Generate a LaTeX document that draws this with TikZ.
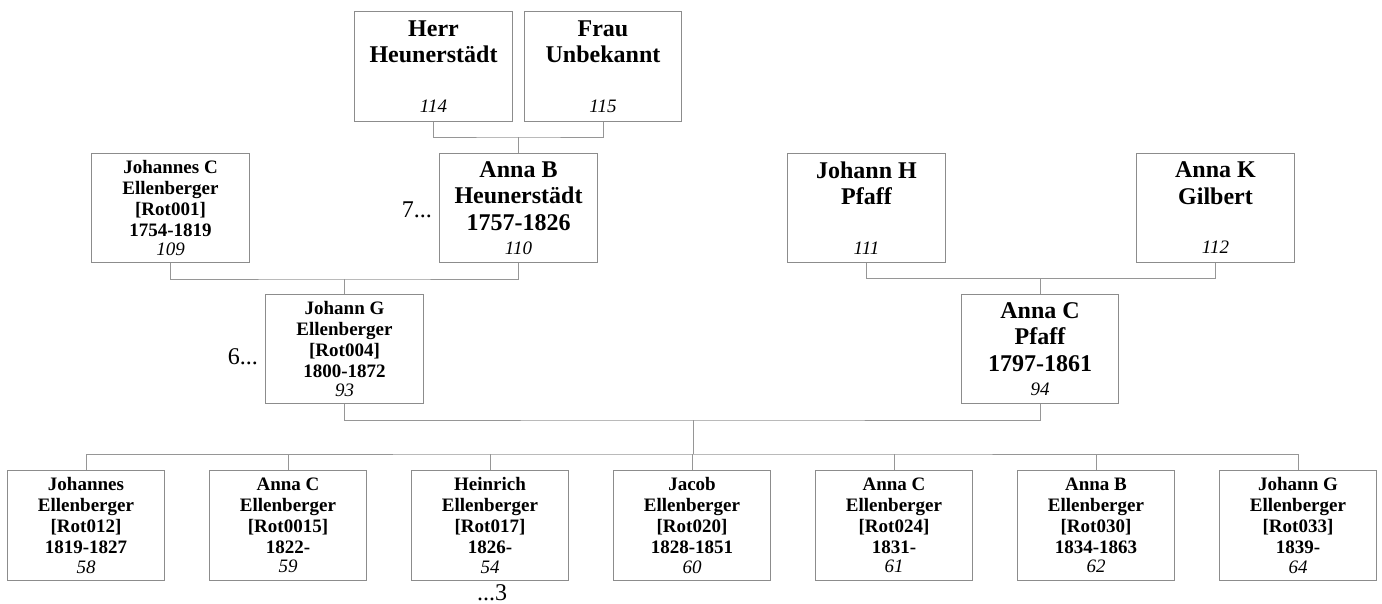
\documentclass[tikz,border=0pt]{standalone}
\usepackage{fontspec}
\setmainfont{Liberation Serif}
\definecolor{boxgray}{RGB}{140,140,140}
\definecolor{linegray}{RGB}{150,150,150}
\newcommand\numit[1]{{\fontsize{19}{21}\selectfont\mdseries\itshape #1}}
\tikzset{
  person/.style={draw=boxgray, line width=1.2pt, fill=white, minimum width=157.5pt,
    minimum height=109.5pt, inner sep=0pt, align=center},
  bigbox/.style={person, font=\fontsize{24}{26.5}\selectfont\bfseries},
  smallbox/.style={person, font=\fontsize{19}{21}\selectfont\bfseries},
  link/.style={draw=linegray, line width=1pt},
  note/.style={font=\fontsize{24}{26}\selectfont, inner sep=0pt}
}
\begin{document}
\begin{tikzpicture}[x=1pt,y=-1pt]
\useasboundingbox[fill=white] (0,0) rectangle (1382,603);
% generation 1
\node[bigbox] (herr) at (433.5,66.5) {Herr\\Heunerstädt\\[23pt]\numit{114}};
\node[bigbox] (frau) at (603,66.5) {Frau\\Unbekannt\\[23pt]\numit{115}};
% generation 2
\node[smallbox] (johC) at (170.5,208) {Johannes C\\Ellenberger\\{[Rot001]}\\1754-1819\\[-1.5pt]\numit{109}};
\node[bigbox] (annaB) at (518.5,208) {Anna B\\Heunerstädt\\1757-1826\\[-2pt]\numit{110}};
\node[bigbox] (johH) at (866.5,208) {Johann H\\Pfaff\\[23pt]\numit{111}};
\node[bigbox] (annaK) at (1215.5,208) {Anna K\\Gilbert\\[23pt]\numit{112}};
% generation 3
\node[smallbox] (johG) at (344.5,349) {Johann G\\Ellenberger\\{[Rot004]}\\1800-1872\\[-1.5pt]\numit{93}};
\node[bigbox] (annaC) at (1040,349) {Anna C\\Pfaff\\1797-1861\\[-2pt]\numit{94}};
% children
\node[smallbox] (c1) at (86,525.5) {Johannes\\Ellenberger\\{[Rot012]}\\1819-1827\\[-1.5pt]\numit{58}};
\node[smallbox] (c2) at (288,525.5) {Anna C\\Ellenberger\\{[Rot0015]}\\1822-\\[-1.5pt]\numit{59}};
\node[smallbox] (c3) at (490,525.5) {Heinrich\\Ellenberger\\{[Rot017]}\\1826-\\[-1.5pt]\numit{54}};
\node[smallbox] (c4) at (692,525.5) {Jacob\\Ellenberger\\{[Rot020]}\\1828-1851\\[-1.5pt]\numit{60}};
\node[smallbox] (c5) at (894,525.5) {Anna C\\Ellenberger\\{[Rot024]}\\1831-\\[-1.5pt]\numit{61}};
\node[smallbox] (c6) at (1096,525.5) {Anna B\\Ellenberger\\{[Rot030]}\\1834-1863\\[-1.5pt]\numit{62}};
\node[smallbox] (c7) at (1298,525.5) {Johann G\\Ellenberger\\{[Rot033]}\\1839-\\[-1.5pt]\numit{64}};
% continuation notes
\node[note, anchor=east] (n7) at ([xshift=-7pt,yshift=-2pt]annaB.west) {7...};
\node[note, anchor=east] (n6) at ([xshift=-7pt,yshift=-8pt]johG.west) {6...};
\node[note, anchor=north] (n3) at ([xshift=2pt,yshift=-3.5pt]c3.south) {...3};
% connectors
\coordinate (j1) at (518.5,137);
\draw[link] (herr.south) |- (j1) -| (frau.south);
\draw[link] (j1) -- (annaB.north);
\coordinate (j2) at (344.5,279);
\draw[link] (johC.south) |- (j2) -| (annaB.south);
\draw[link] (j2) -- (johG.north);
\coordinate (j3) at (1040,278.5);
\draw[link] (johH.south) |- (j3) -| (annaK.south);
\draw[link] (j3) -- (annaC.north);
\coordinate (j4) at (693,420);
\coordinate (j5) at (693,454);
\draw[link] (johG.south) |- (j4) -| (annaC.south);
\draw[link] (j4) -- (j5);
\draw[link] (c1.north) |- (j5) -| (c7.north);
\foreach \c in {c2,c3,c4,c5,c6}{
  \draw[link] (\c.north) -- (\c.north |- j5);
}
\end{tikzpicture}
\end{document}
